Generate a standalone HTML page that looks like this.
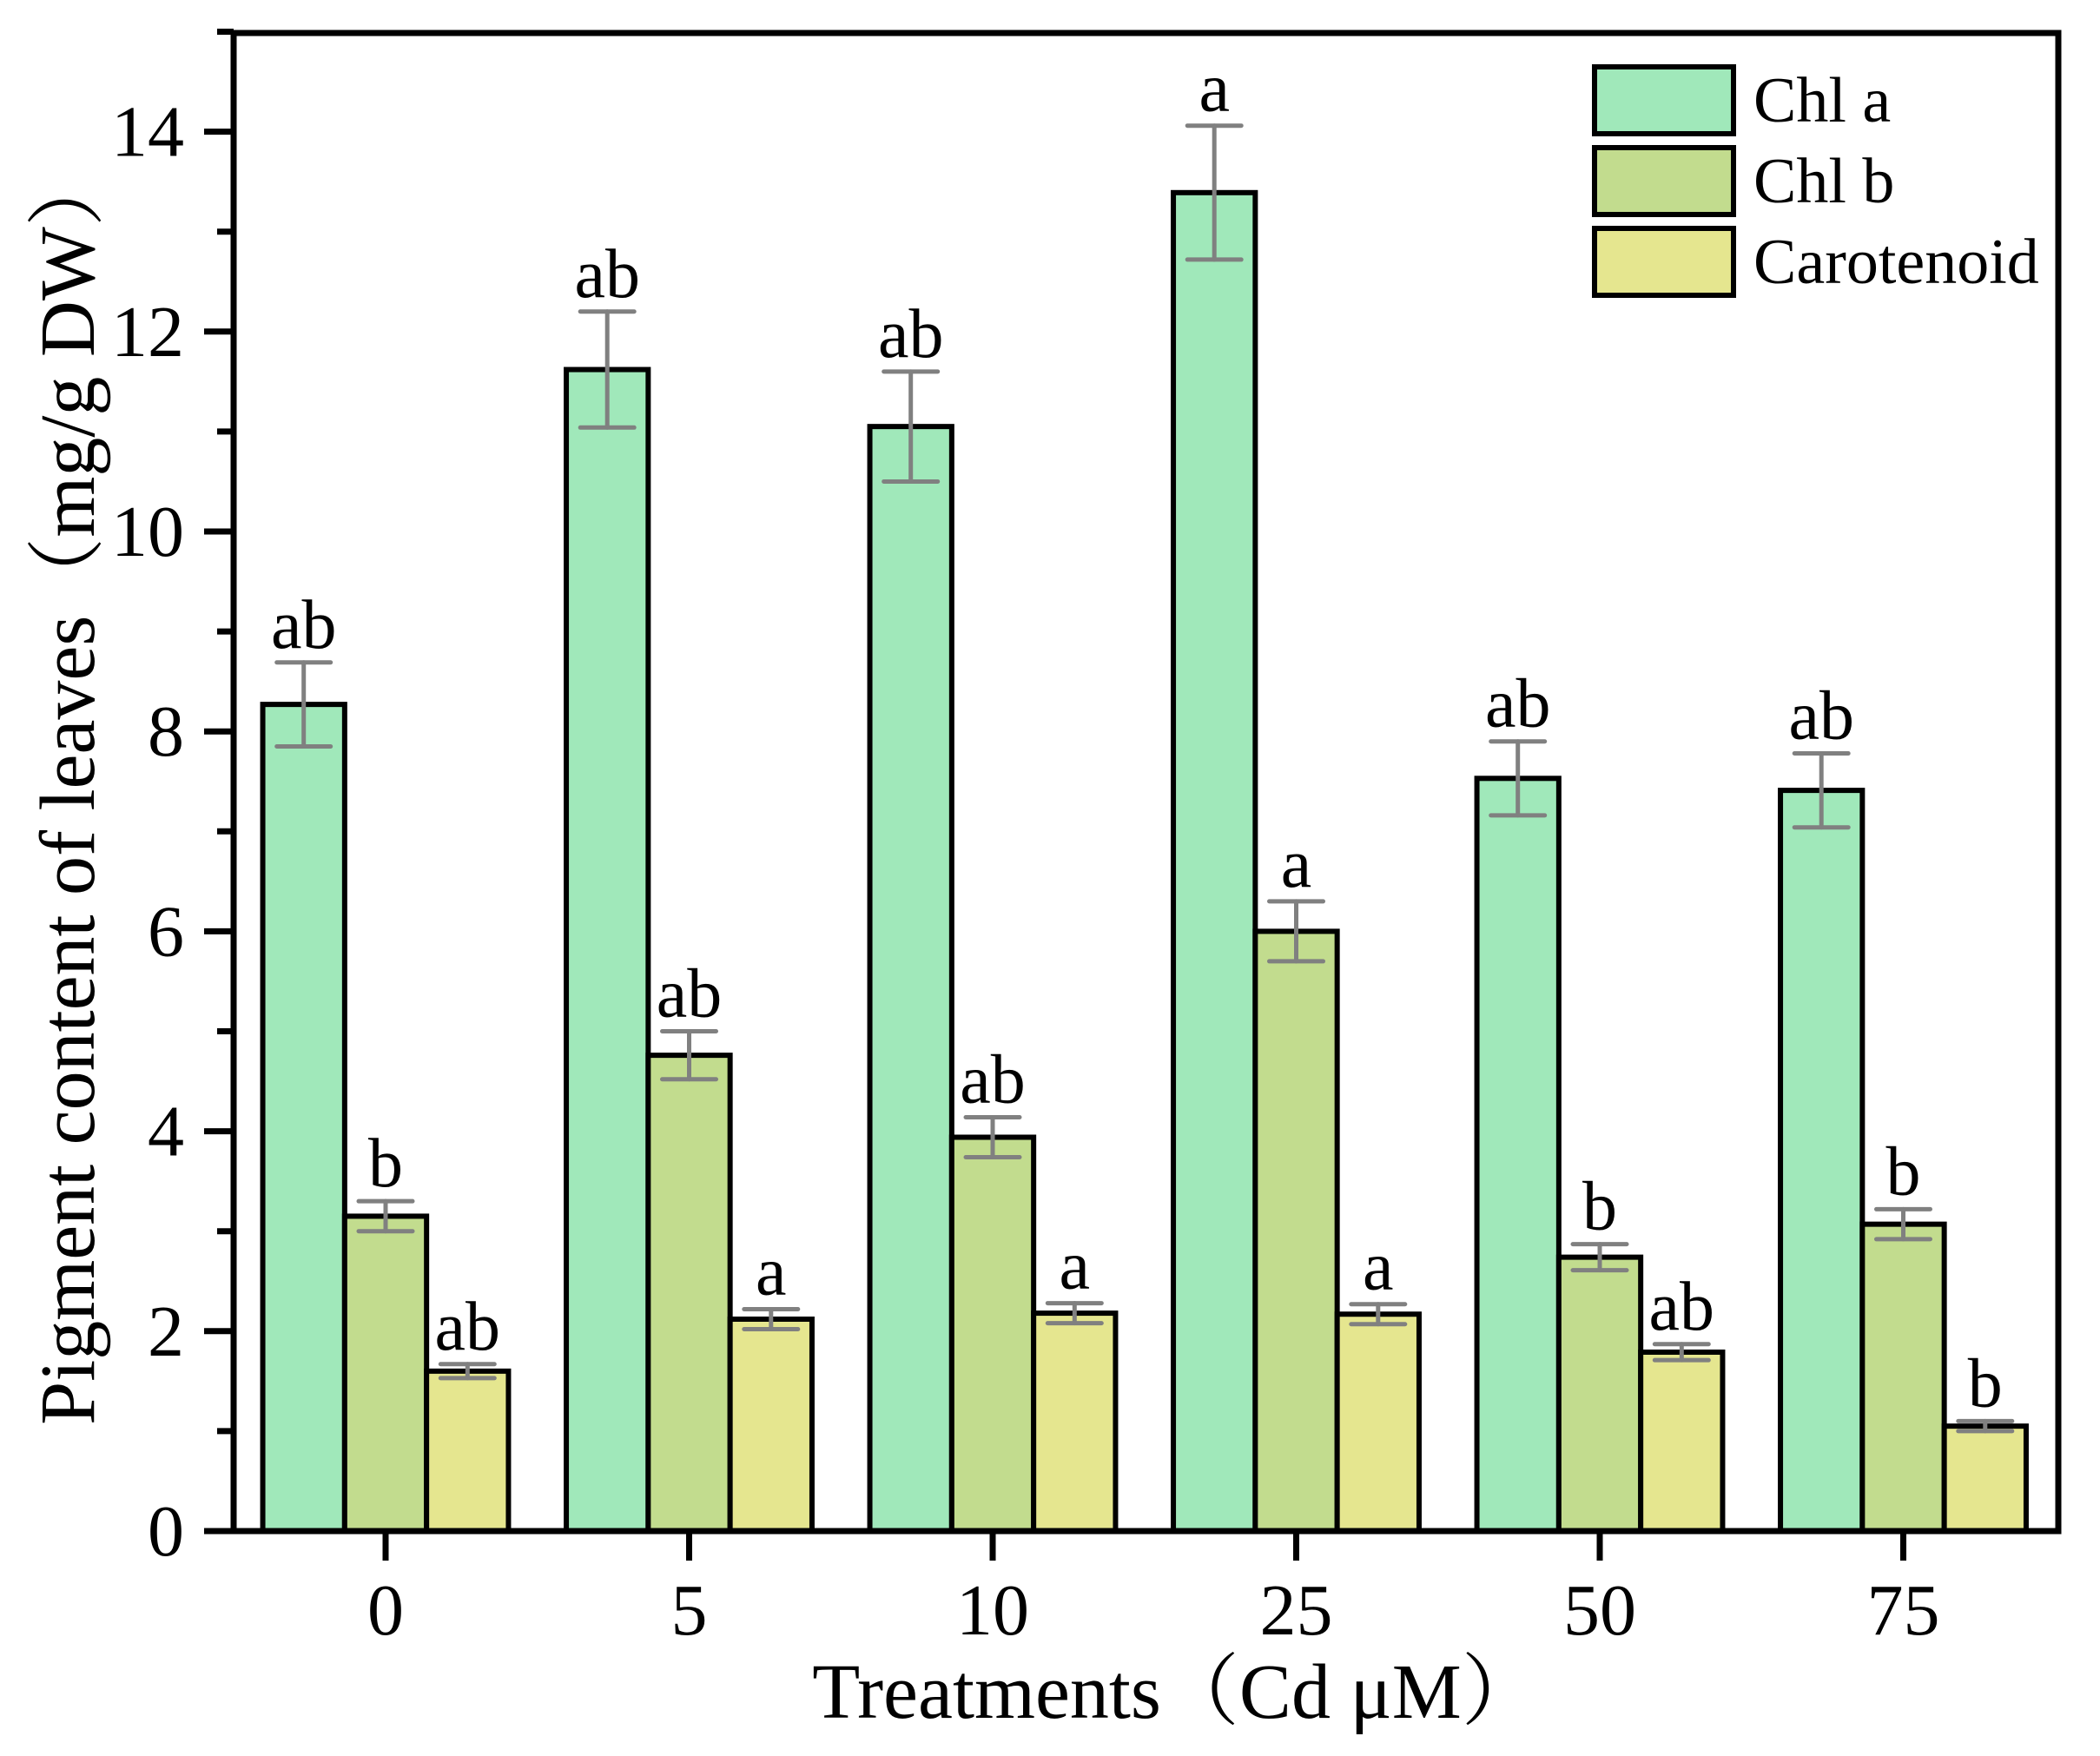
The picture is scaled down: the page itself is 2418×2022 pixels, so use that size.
<!DOCTYPE html>
<html><head><meta charset="utf-8"><style>html,body{margin:0;padding:0;background:#fff}svg{display:block}</style></head>
<body>
<svg xmlns="http://www.w3.org/2000/svg" width="2418" height="2022" viewBox="0 0 2418 2022" font-family="'Liberation Serif','Noto Serif CJK SC',serif">
<rect width="2418" height="2022" fill="#fff"/>
<g id="bars" stroke="#000" stroke-width="6"></g>
<g id="err" stroke="#808080" stroke-width="5" stroke-linecap="round"></g>
<g id="lab" font-size="80" text-anchor="middle" fill="#000"></g>
<g stroke="#000" stroke-width="7" fill="none">
<rect x="269" y="38" width="2101" height="1725"/>
</g>
<g id="ticks" stroke="#000" stroke-width="7"></g>
<g id="ytl" font-size="84" text-anchor="end"></g>
<g id="xtl" font-size="84" text-anchor="middle"></g>
<text x="1354" y="1978" font-size="90" text-anchor="middle">Treatments（Cd μM）</text>
<text transform="translate(108,906) rotate(-90)" font-size="90" text-anchor="middle">Pigment content of leaves（mg/g DW）</text>
<g stroke="#000" stroke-width="6">
<rect x="1836" y="77" width="160" height="77" fill="#A0E8BA"/>
<rect x="1836" y="170" width="160" height="77" fill="#C2DC8E"/>
<rect x="1836" y="263" width="160" height="77" fill="#E5E68F"/>
</g>
<g font-size="74">
<text x="2019" y="140">Chl a</text>
<text x="2019" y="233">Chl b</text>
<text x="2019" y="326">Carotenoid</text>
</g>
<script>
const ns="http://www.w3.org/2000/svg";
const y0=1763,u=115.1;
const cols=["#A0E8BA","#C2DC8E","#E5E68F"];
const d=[
[[8.27,0.42,"ab"],[3.15,0.15,"b"],[1.6,0.07,"ab"]],
[[11.62,0.58,"ab"],[4.76,0.24,"ab"],[2.12,0.1,"a"]],
[[11.05,0.55,"ab"],[3.94,0.2,"ab"],[2.18,0.1,"a"]],
[[13.39,0.67,"a"],[6.0,0.3,"a"],[2.17,0.1,"a"]],
[[7.53,0.37,"ab"],[2.74,0.13,"b"],[1.79,0.08,"ab"]],
[[7.41,0.37,"ab"],[3.07,0.15,"b"],[1.05,0.05,"b"]]];
const xl=["0","5","10","25","50","75"];
function el(p,t,a,txt){const e=document.createElementNS(ns,t);for(const k in a)e.setAttribute(k,a[k]);if(txt!==undefined)e.textContent=txt;document.getElementById(p).appendChild(e);}
const bw=94.3;
d.forEach((g,i)=>{const c=444+349.5*i;
 g.forEach((s,j)=>{const x=c-1.5*bw+j*bw, cx=x+bw/2, yt=y0-s[0]*u, e=s[1]*u;
  el("bars","rect",{x:x,y:yt,width:bw,height:y0-yt,fill:cols[j]});
  el("err","line",{x1:cx,y1:yt-e,x2:cx,y2:yt+e});
  el("err","line",{x1:cx-31,y1:yt-e,x2:cx+31,y2:yt-e});
  el("err","line",{x1:cx-31,y1:yt+e,x2:cx+31,y2:yt+e});
  el("lab","text",{x:cx,y:yt-e-17},s[2]);
 });
 el("ticks","line",{x1:c,y1:y0,x2:c,y2:y0+34});
 el("xtl","text",{x:c,y:1882},xl[i]);
});
for(let v=0;v<=15;v++){const y=y0-v*u;
 if(v%2==0){el("ticks","line",{x1:235,y1:y,x2:269,y2:y});el("ytl","text",{x:212,y:y+28},String(v));}
 else el("ticks","line",{x1:250,y1:y,x2:269,y2:y});
}
</script>
</svg>
</body></html>
